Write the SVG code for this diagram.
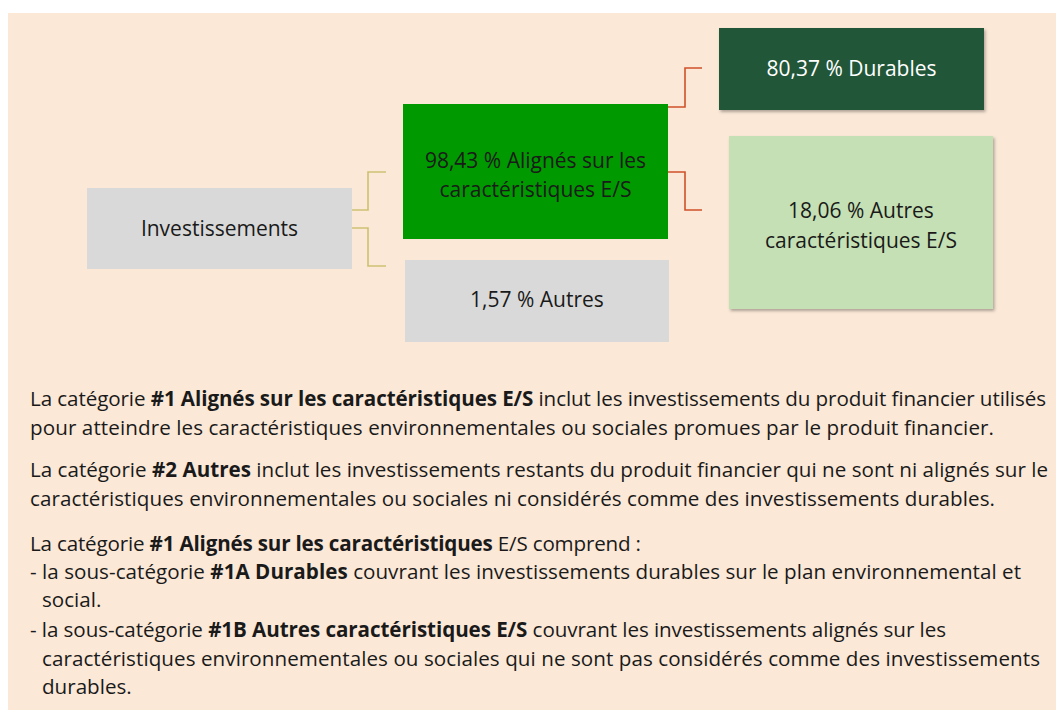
<svg xmlns="http://www.w3.org/2000/svg" width="1056" height="716" viewBox="0 0 1056 716">
<defs>
<style>
text{font-family:"Open Sans","Liberation Sans",sans-serif;font-size:20.6px;fill:#1a1a1a}
.n{font-size:21px}
.c{text-anchor:middle}
.w{fill:#ffffff}
.b{font-weight:bold}
.ly{fill:none;stroke:#cdc173;stroke-width:1.6}
.lr{fill:none;stroke:#d0502a;stroke-width:1.6}
</style>
<filter id="sh" x="-10%" y="-10%" width="125%" height="130%">
<feDropShadow dx="1.5" dy="2" stdDeviation="1.5" flood-color="#000" flood-opacity="0.3"/>
</filter>
</defs>
<rect x="0" y="0" width="1056" height="716" fill="#ffffff"/>
<rect x="8" y="13" width="1048" height="697" fill="#fbe8d7"/>
<g id="connectors">
<polyline class="ly" points="352,210 368,210 368,172 386,172"/>
<polyline class="ly" points="352,228 368,228 368,266 386,266"/>
<polyline class="lr" points="668,107 685,107 685,68 702,68"/>
<polyline class="lr" points="668,172 685,172 685,210 702,210"/>
</g>
<g id="investissements">
<rect x="87" y="188" width="265" height="81" fill="#d9d9d9"/>
<text class="c n" x="219.5" y="235.5">Investissements</text>
</g>
<g id="alignes">
<rect x="403" y="104" width="265" height="135" fill="#009900"/>
<text class="c n" x="535.5" y="168">98,43 % Alignés sur les</text>
<text class="c n" x="535.5" y="197">caractéristiques E/S</text>
</g>
<g id="autres">
<rect x="405" y="260" width="264" height="82" fill="#d9d9d9"/>
<text class="c n" x="537" y="307">1,57 % Autres</text>
</g>
<g id="durables">
<rect x="719" y="28" width="265" height="82" fill="#245639" filter="url(#sh)"/>
<text class="c w n" x="851.5" y="75.5">80,37 % Durables</text>
</g>
<g id="autres-es">
<rect x="729" y="136" width="264" height="173" fill="#c5e0b4" filter="url(#sh)"/>
<text class="c n" x="861" y="218">18,06 % Autres</text>
<text class="c n" x="861" y="248">caractéristiques E/S</text>
</g>
<g id="legend">
<text x="30" y="406" textLength="1016" lengthAdjust="spacing">La catégorie <tspan class="b">#1 Alignés sur les caractéristiques E/S</tspan> inclut les investissements du produit financier utilisés</text>
<text x="30" y="435" textLength="964" lengthAdjust="spacing">pour atteindre les caractéristiques environnementales ou sociales promues par le produit financier.</text>
<text x="30" y="477" textLength="1018" lengthAdjust="spacing">La catégorie <tspan class="b">#2 Autres</tspan> inclut les investissements restants du produit financier qui ne sont ni alignés sur le</text>
<text x="30" y="506" textLength="965" lengthAdjust="spacing">caractéristiques environnementales ou sociales ni considérés comme des investissements durables.</text>
<text x="30" y="551" textLength="611" lengthAdjust="spacing">La catégorie <tspan class="b">#1 Alignés sur les caractéristiques</tspan> E/S comprend :</text>
<text x="30" y="579" textLength="991" lengthAdjust="spacing">- la sous-catégorie <tspan class="b">#1A Durables</tspan> couvrant les investissements durables sur le plan environnemental et</text>
<text x="42" y="607">social.</text>
<text x="30" y="637" textLength="916" lengthAdjust="spacing">- la sous-catégorie <tspan class="b">#1B Autres caractéristiques E/S</tspan> couvrant les investissements alignés sur les</text>
<text x="42" y="666" textLength="998" lengthAdjust="spacing">caractéristiques environnementales ou sociales qui ne sont pas considérés comme des investissements</text>
<text x="42" y="694">durables.</text>
</g>
</svg>
